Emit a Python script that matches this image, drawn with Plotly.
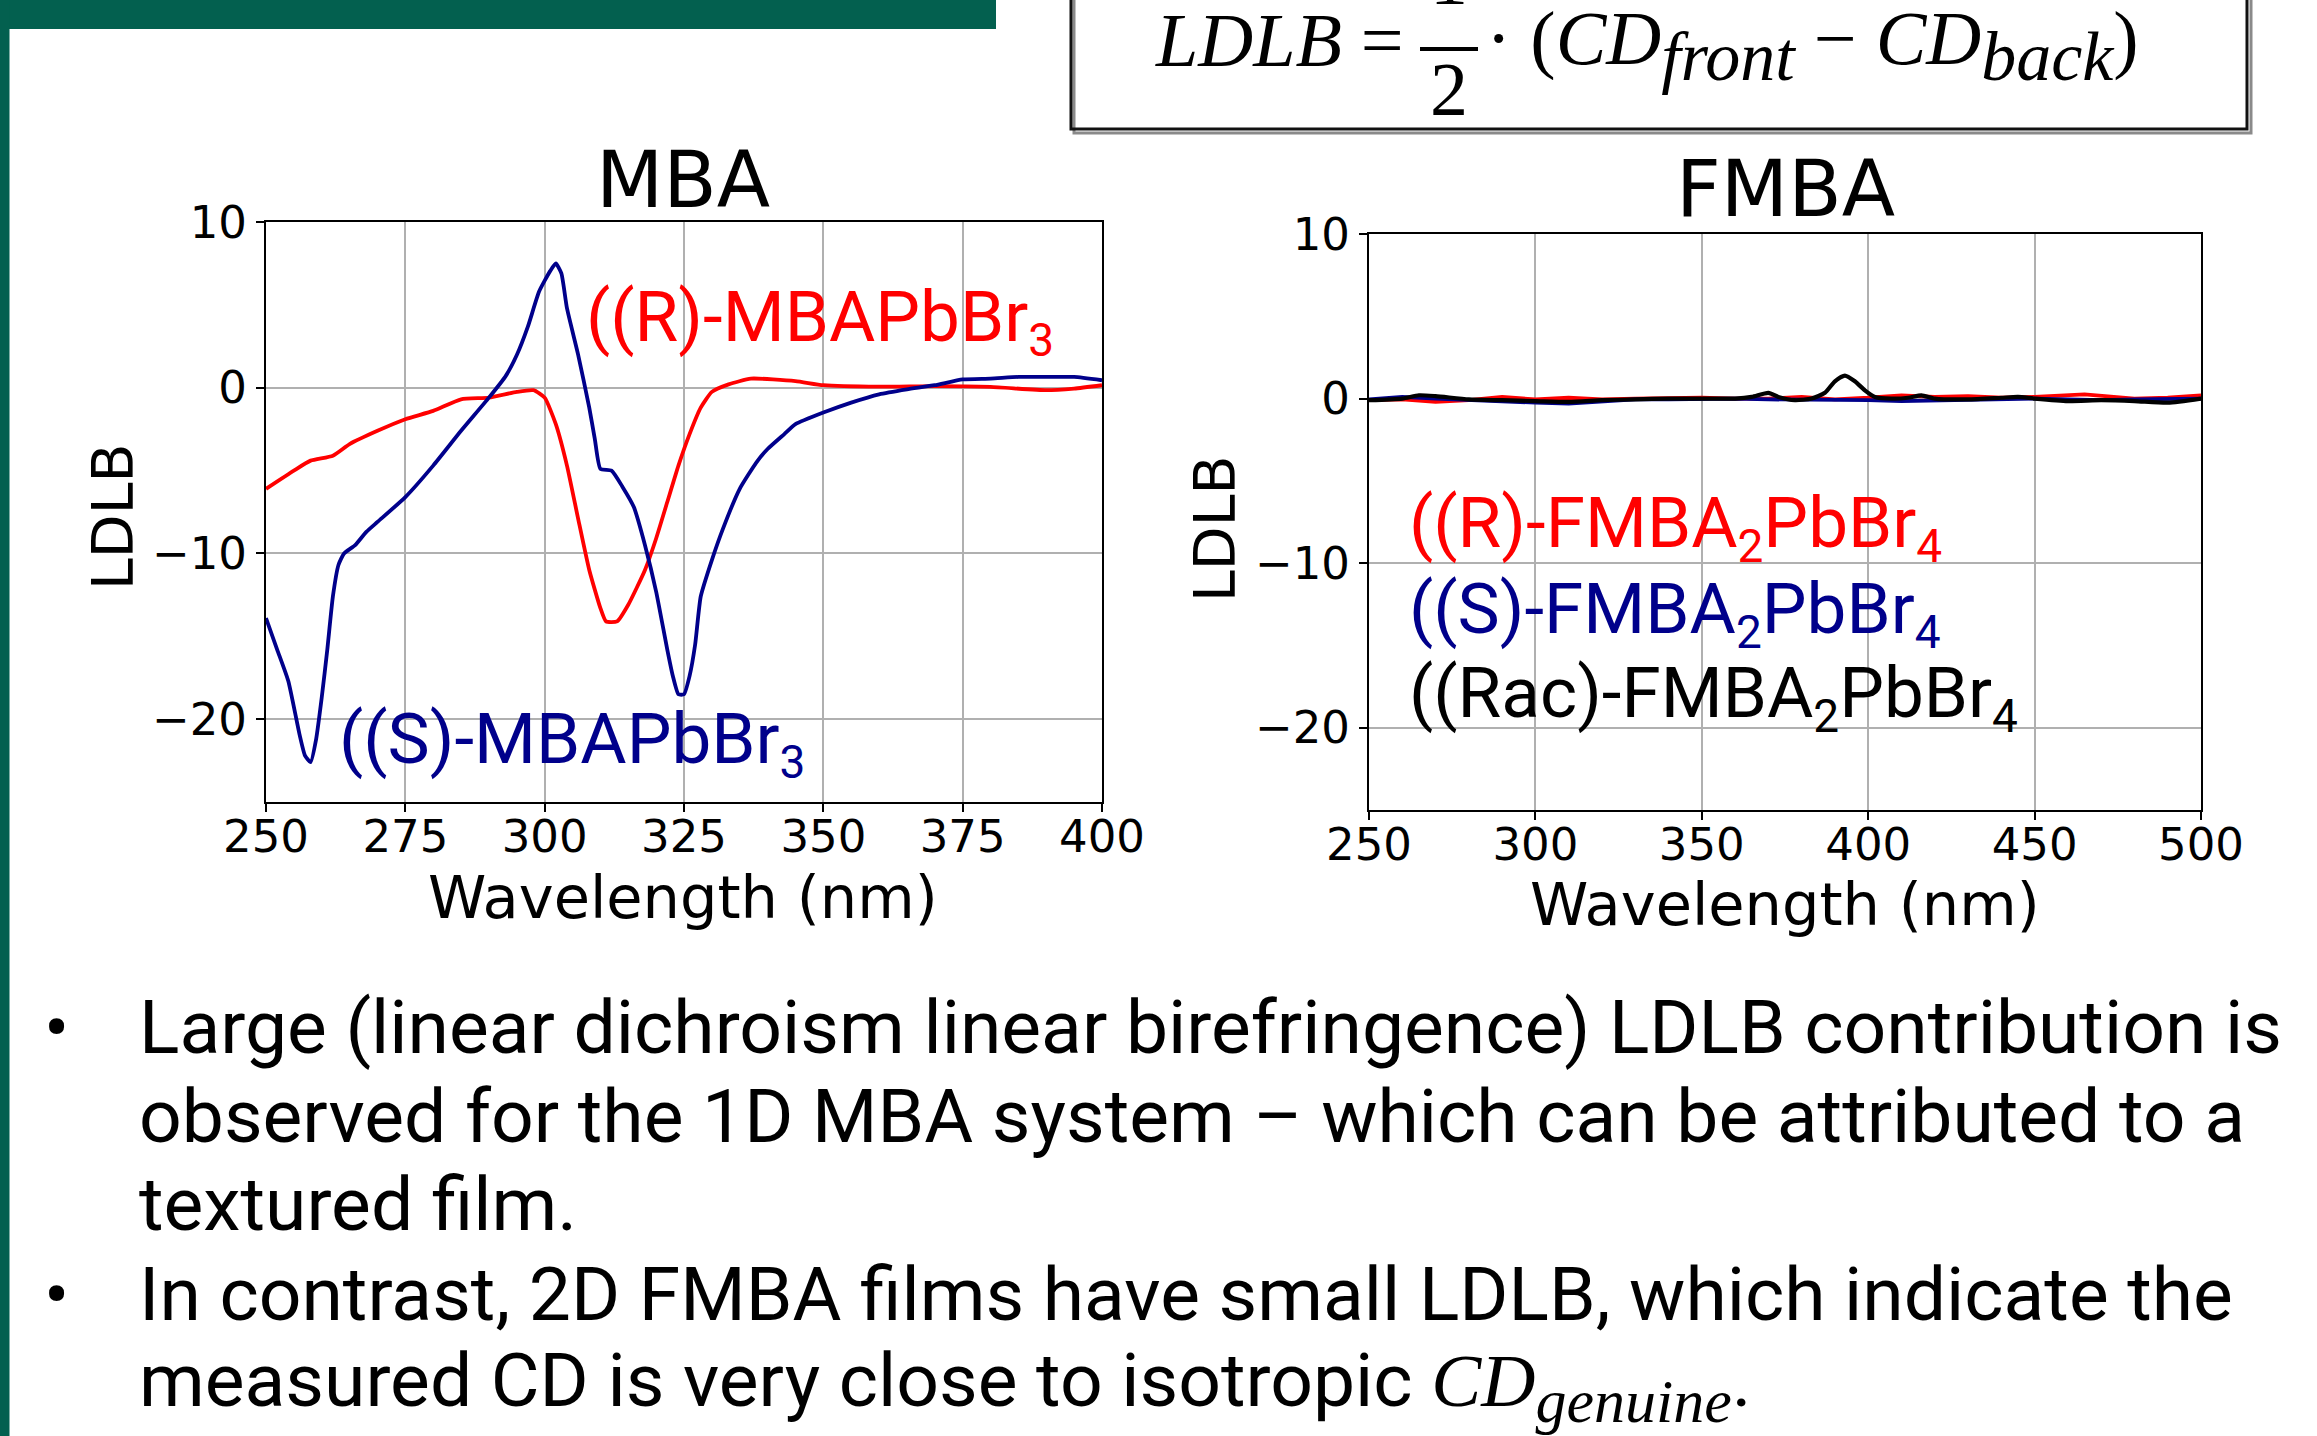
import plotly.graph_objects as go

W, H = 2317, 1436

# ---------------- data ----------------
mba_r_x = [250, 255, 258, 262, 265, 270, 275, 280, 285, 290, 295, 298, 300, 302, 304, 306, 308, 310, 311, 313,
           315, 318, 320, 322, 324, 326, 328, 330, 333, 337, 345, 350, 360, 370, 380, 390, 395, 400]
mba_r_y = [-6.1, -5.0, -4.4, -4.1, -3.4, -2.6, -1.9, -1.4, -0.7, -0.6, -0.25, -0.15, -0.6, -2.2, -4.7, -7.9, -11.0,
           -13.3, -14.1, -14.1, -13.1, -11.0, -9.1, -6.9, -4.7, -2.8, -1.2, -0.25, 0.2, 0.55, 0.4, 0.15, 0.06, 0.1,
           0.05, -0.15, -0.05, 0.15]

mba_s_x = [250, 252, 254, 256, 257, 258, 259, 260, 261, 262, 263, 264, 266, 268, 270, 275, 280, 285, 290, 293,
           295, 297, 299, 301, 302, 303, 304, 306, 308, 309, 310, 312, 314, 316, 318, 320, 322, 323, 324, 325,
           326, 327, 328, 330, 332, 335, 338, 340, 343, 345, 350, 355, 360, 365, 370, 375, 380, 385, 390, 395, 400]
mba_s_y = [-13.9, -15.8, -17.7, -20.9, -22.2, -22.6, -21.2, -18.7, -15.8, -12.6, -10.7, -10.0, -9.5, -8.7, -8.1,
           -6.6, -4.7, -2.6, -0.6, 0.7, 1.97, 3.7, 5.8, 7.05, 7.5, 6.9, 4.8, 2.0, -1.2, -3.1, -4.9, -5.0, -6.0,
           -7.2, -9.5, -12.3, -15.8, -17.4, -18.5, -18.5, -17.4, -15.5, -12.6, -10.4, -8.5, -6.1, -4.5, -3.7,
           -2.8, -2.2, -1.5, -0.9, -0.4, -0.1, 0.15, 0.5, 0.55, 0.65, 0.65, 0.65, 0.45]

fmba_r_x = [250, 260, 270, 280, 290, 300, 310, 320, 330, 340, 350, 360, 370, 380, 390, 400, 410, 420, 430, 440,
            450, 465, 480, 490, 500]
fmba_r_y = [-0.1, -0.05, -0.2, -0.1, 0.1, -0.05, 0.05, -0.05, 0.0, 0.05, 0.05, 0.0, 0.0, 0.1, -0.05, 0.05, 0.2,
            0.1, 0.15, 0.05, 0.1, 0.25, 0.0, 0.05, 0.2]

fmba_s_x = [250, 260, 270, 280, 290, 300, 310, 320, 330, 340, 350, 360, 370, 380, 390, 400, 410, 420, 430, 440,
            450, 460, 470, 480, 490, 500]
fmba_s_y = [-0.05, 0.1, 0.0, -0.1, -0.2, -0.25, -0.3, -0.15, -0.05, -0.05, 0.0, 0.0, -0.05, -0.05, -0.1, -0.1,
            -0.15, -0.1, -0.05, -0.05, 0.0, -0.05, -0.1, -0.05, -0.05, 0.0]

fmba_k_x = [250, 260, 265, 270, 280, 290, 300, 310, 320, 330, 340, 350, 360, 365, 370, 373, 378, 383, 387, 390,
            393, 396, 399, 402, 407, 412, 416, 420, 430, 440, 445, 450, 460, 470, 480, 490, 500]
fmba_k_y = [-0.1, 0.0, 0.2, 0.15, -0.05, -0.1, -0.15, -0.2, -0.1, -0.05, 0.0, 0.0, 0.0, 0.1, 0.35, 0.1, -0.1,
            0.0, 0.35, 1.05, 1.4, 1.05, 0.5, 0.1, 0.0, 0.05, 0.2, 0.0, -0.05, 0.05, 0.1, 0.0, -0.15, -0.1, -0.15,
            -0.25, 0.0]

mba_xticks = [250, 275, 300, 325, 350, 375, 400]
fmba_xticks = [250, 300, 350, 400, 450, 500]
yticks = [-20, -10, 0, 10]

titles = ["MBA", "FMBA"]
SUBSZ = "<sub><span style='font-size:46px'>{}</span></sub>"
mba_labels = ["((R)-MBAPbBr" + SUBSZ.format("3"), "((S)-MBAPbBr" + SUBSZ.format("3")]
fmba_labels = ["((R)-FMBA" + SUBSZ.format("2") + "PbBr" + SUBSZ.format("4"),
               "((S)-FMBA" + SUBSZ.format("2") + "PbBr" + SUBSZ.format("4"),
               "((Rac)-FMBA" + SUBSZ.format("2") + "PbBr" + SUBSZ.format("4")]
bullets = [
    "Large (linear dichroism linear birefringence) LDLB contribution is",
    "observed for the 1D MBA system – which can be attributed to a",
    "textured film.",
    "In contrast, 2D FMBA films have small LDLB, which indicate the",
    "measured CD is very close to isotropic ",
]

RED = "#ff0000"
BLUE = "#00008b"
BLACK = "#000000"
GREEN = "#03604f"


def px(x):
    return x / W


def py(y):
    return 1 - y / H


fig = go.Figure()
lw = 3.8
fig.add_trace(go.Scatter(x=mba_r_x, y=mba_r_y, mode="lines", line=dict(color=RED, width=lw, shape="spline", smoothing=0.5),
                         xaxis="x", yaxis="y", showlegend=False))
fig.add_trace(go.Scatter(x=mba_s_x, y=mba_s_y, mode="lines", line=dict(color=BLUE, width=lw, shape="spline", smoothing=0.5),
                         xaxis="x", yaxis="y", showlegend=False))
fig.add_trace(go.Scatter(x=fmba_r_x, y=fmba_r_y, mode="lines", line=dict(color=RED, width=lw),
                         xaxis="x2", yaxis="y2", showlegend=False))
fig.add_trace(go.Scatter(x=fmba_s_x, y=fmba_s_y, mode="lines", line=dict(color=BLUE, width=lw),
                         xaxis="x2", yaxis="y2", showlegend=False))
fig.add_trace(go.Scatter(x=fmba_k_x, y=fmba_k_y, mode="lines", line=dict(color=BLACK, width=4.2, shape="spline", smoothing=0.6),
                         xaxis="x2", yaxis="y2", showlegend=False))

tickfont = dict(family="DejaVu Sans", size=45, color="black")
ax_common = dict(showline=True, linecolor="black", linewidth=2, mirror=True,
                 showgrid=True, gridcolor="#b0b0b0", gridwidth=1.5, zeroline=False,
                 ticks="outside", ticklen=8, tickwidth=2, tickcolor="black", tickfont=tickfont,
                 automargin=False)

fig.update_layout(
    width=W, height=H, margin=dict(l=0, r=0, t=0, b=0, autoexpand=False),
    paper_bgcolor="white", plot_bgcolor="white",
    xaxis=dict(domain=[px(266), px(1102)], range=[250, 400], tickvals=mba_xticks, anchor="y",
               ticklabelstandoff=-14, **ax_common),
    yaxis=dict(domain=[py(802), py(222)], range=[-25, 10], tickvals=yticks, anchor="x", **ax_common),
    xaxis2=dict(domain=[px(1369), px(2201)], range=[250, 500], tickvals=fmba_xticks, anchor="y2",
                ticklabelstandoff=-14, **ax_common),
    yaxis2=dict(domain=[py(810), py(234)], range=[-25, 10], tickvals=yticks, anchor="x2", **ax_common),
)

shapes = []
# green slide decoration
shapes.append(dict(type="rect", xref="paper", yref="paper", x0=0, x1=px(996), y0=py(29), y1=1,
                   fillcolor=GREEN, line=dict(width=0), layer="below"))
shapes.append(dict(type="rect", xref="paper", yref="paper", x0=0, x1=px(9.5), y0=0, y1=1,
                   fillcolor=GREEN, line=dict(width=0), layer="below"))
# formula box (three visible sides, with shadow)
shapes.append(dict(type="path", xref="paper", yref="paper",
                   path=f"M {px(1074)},1 L {px(1074)},{py(133)} L {px(2251)},{py(133)} L {px(2251)},1",
                   line=dict(color="#8a8a8a", width=3), layer="below"))
shapes.append(dict(type="path", xref="paper", yref="paper",
                   path=f"M {px(1071)},1 L {px(1071)},{py(129)} L {px(2247)},{py(129)} L {px(2247)},1",
                   line=dict(color="#111111", width=3), layer="below"))
# fraction bar
shapes.append(dict(type="line", xref="paper", yref="paper", x0=px(1420), x1=px(1478), y0=py(49), y1=py(49),
                   line=dict(color="black", width=4)))
fig.update_layout(shapes=shapes)

ann = []


def text(x, y, s, size, color="black", family="Roboto", xanchor="left", yanchor="middle", angle=0):
    ann.append(dict(x=px(x), y=py(y), xref="paper", yref="paper", text=s, showarrow=False,
                    font=dict(family=family, size=size, color=color), xanchor=xanchor, yanchor=yanchor,
                    textangle=angle))


# chart titles & axis labels
text(683, 180, titles[0], 78, family="DejaVu Sans", xanchor="center")
text(1785, 189, titles[1], 78, family="DejaVu Sans", xanchor="center")
text(683, 897, "Wavelength (nm)", 59, family="DejaVu Sans", xanchor="center")
text(1785, 904, "Wavelength (nm)", 59, family="DejaVu Sans", xanchor="center")
text(113, 517, "LDLB", 57, family="DejaVu Sans", xanchor="center", angle=-90)
text(1215, 529, "LDLB", 57, family="DejaVu Sans", xanchor="center", angle=-90)

# series labels
text(584, 321, mba_labels[0], 71, color=RED)
text(337, 743, mba_labels[1], 71, color=BLUE)
text(1407, 527, fmba_labels[0], 71, color=RED)
text(1407, 613, fmba_labels[1], 71, color=BLUE)
text(1407, 697, fmba_labels[2], 71, color=BLACK)

# formula
SERIF = "Liberation Serif"
SUB = "<sub><span style='font-size:70px'><i>{}</i></span></sub>"
text(1406, 40, "<i>LDLB</i> =", 76, family=SERIF, xanchor="right")
text(1449, 22, "1", 76, family=SERIF, xanchor="center", yanchor="bottom")
text(1449, 89, "2", 76, family=SERIF, xanchor="center")
text(1484, 46, "· (<i>CD</i>" + SUB.format("front") + " − <i>CD</i>" + SUB.format("back") + ")", 76,
     family=SERIF)

# bullet text
line_y = [1027, 1116, 1204, 1294, 1385]
for i, s in enumerate(bullets):
    if i == 4:
        s = s + ("<span style='font-family:Liberation Serif'><i>CD</i>"
                 "<sub><span style='font-size:62px'><i>genuine</i></span></sub></span>.")
    text(137, line_y[i], s, 75)
for yb in (line_y[0], line_y[3]):
    text(56, yb, "•", 75, xanchor="center")

fig.update_layout(annotations=ann)
fig.write_html("out.html", config={"displayModeBar": False},
               post_script="document.body.style.margin='0px';document.body.style.overflow='hidden';")
